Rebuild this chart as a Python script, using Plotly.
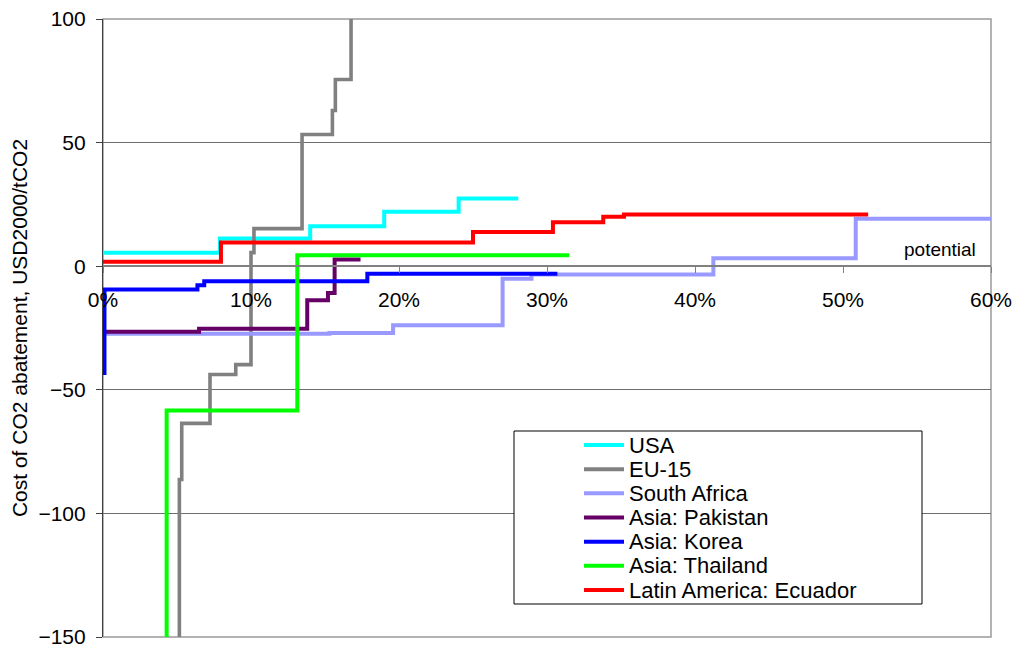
import plotly.graph_objects as go

# ---------------- data ----------------
series_names = ["USA", "EU-15", "South Africa", "Asia: Pakistan",
                "Asia: Korea", "Asia: Thailand", "Latin America: Ecuador"]
colors = ["#00FFFF", "#808080", "#9999FF", "#660066", "#0000FF", "#00FF00", "#FF0000"]

# cumulative potential (%) at which each step starts, and its cost (USD2000/tCO2)
usa_x = [0, 7.9, 14.0, 19.0, 24.03, 28.06]
usa_y = [5.4, 11.2, 16.2, 22.0, 27.4, 27.4]

eu15_x = [0, 5.16, 5.32, 7.23, 8.97, 10.0, 10.2, 13.45, 15.5, 15.7, 16.76]
eu15_y = [-250, -86.3, -63.6, -43.8, -39.8, 5.5, 15.2, 53.3, 63.0, 75.5, 250]

safrica_x = [0, 15.3, 19.6, 27.0, 28.95, 41.24, 50.86, 60]
safrica_y = [-27.3, -27.0, -23.9, -5.1, -3.4, 3.2, 19.2, 19.2]

pakistan_x = [0, 6.49, 13.8, 15.2, 15.65, 17.4]
pakistan_y = [-26.5, -25.3, -13.75, -10.8, 2.7, 2.7]

korea_x = [0, 0.1, 6.38, 6.84, 17.86, 30.7]
korea_y = [-43.2, -9.4, -7.7, -6.1, -3.1, -3.1]

thailand_x = [0, 4.3, 13.13, 31.5]
thailand_y = [-200, -58.4, 4.4, 4.4]

ecuador_x = [0, 7.97, 25.0, 30.4, 33.8, 35.2, 51.7]
ecuador_y = [1.8, 9.6, 13.8, 17.8, 20.0, 20.9, 20.9]

x_ticks = [0, 10, 20, 30, 40, 50, 60]
y_ticks = [-150, -100, -50, 0, 50, 100]

y_title = "Cost of CO2 abatement, USD2000/tCO2"
x_title = "potential"

all_x = [usa_x, eu15_x, safrica_x, pakistan_x, korea_x, thailand_x, ecuador_x]
all_y = [usa_y, eu15_y, safrica_y, pakistan_y, korea_y, thailand_y, ecuador_y]

FONT = "Arial, 'Liberation Sans', sans-serif"

# ---------------- figure ----------------
W, H = 1015, 650
ML, MR, MT, MB = 103, 24, 19, 13
PW, PH = W - ML - MR, H - MT - MB

fig = go.Figure()
for name, col, xs, ys in zip(series_names, colors, all_x, all_y):
    fig.add_trace(go.Scatter(
        x=xs, y=ys, mode="lines", name=name,
        line=dict(color=col, width=3.6 if name == "EU-15" else 4, shape="hv"),
        showlegend=False, hoverinfo="skip",
    ))

def px_x(px):
    return (px - ML) / PW

def px_y(py):
    return (H - MB - py) / PH

shapes = [
    # plot area border
    dict(type="rect", xref="paper", yref="paper", x0=0, x1=1, y0=0, y1=1,
         line=dict(color="#9a9a9a", width=1.5), layer="below"),
    # legend box
    dict(type="rect", xref="paper", yref="paper",
         x0=px_x(514), x1=px_x(922), y0=px_y(604), y1=px_y(431),
         line=dict(color="#000000", width=1), fillcolor="white"),
]
annotations = []
for i, (name, col) in enumerate(zip(series_names, colors)):
    yc = 445 + i * 24.17
    shapes.append(dict(type="line", xref="paper", yref="paper",
                       x0=px_x(584), x1=px_x(624), y0=px_y(yc), y1=px_y(yc),
                       line=dict(color=col, width=4)))
    annotations.append(dict(xref="paper", yref="paper", x=px_x(627), y=px_y(yc),
                            xanchor="left", yanchor="middle", text=name,
                            showarrow=False, font=dict(family=FONT, size=22, color="#000")))

annotations.append(dict(xref="paper", yref="paper", x=px_x(978), y=px_y(250),
                        xanchor="right", yanchor="middle", text=x_title,
                        showarrow=False, font=dict(family=FONT, size=19, color="#000")))

fig.update_layout(
    width=W, height=H,
    margin=dict(l=ML, r=MR, t=MT, b=MB, autoexpand=False),
    paper_bgcolor="white", plot_bgcolor="white",
    font=dict(family=FONT, size=21, color="#000"),
    shapes=shapes, annotations=annotations,
    showlegend=False,
)
fig.update_xaxes(
    range=[0, 60], tickvals=x_ticks, ticktext=[f"{v}%" for v in x_ticks],
    anchor="free", position=150 / 250, showgrid=False, zeroline=False,
    showline=True, linecolor="#808080", linewidth=1.5,
    ticks="outside", ticklen=6, tickcolor="#808080", tickwidth=1,
    tickfont=dict(family=FONT, size=21, color="#000"), ticklabelstandoff=9,
)
fig.update_yaxes(
    range=[-150, 100], tickvals=y_ticks, showgrid=True, gridcolor="#6e6e6e", gridwidth=1,
    zeroline=False, showline=True, linecolor="#404040", linewidth=1.2,
    ticks="outside", ticklen=6, tickcolor="#404040",
    tickfont=dict(family=FONT, size=21, color="#000"), ticklabelstandoff=6,
    title=dict(text=y_title, font=dict(family=FONT, size=21, color="#000"), standoff=5),
)

fig.write_html("out.html")
